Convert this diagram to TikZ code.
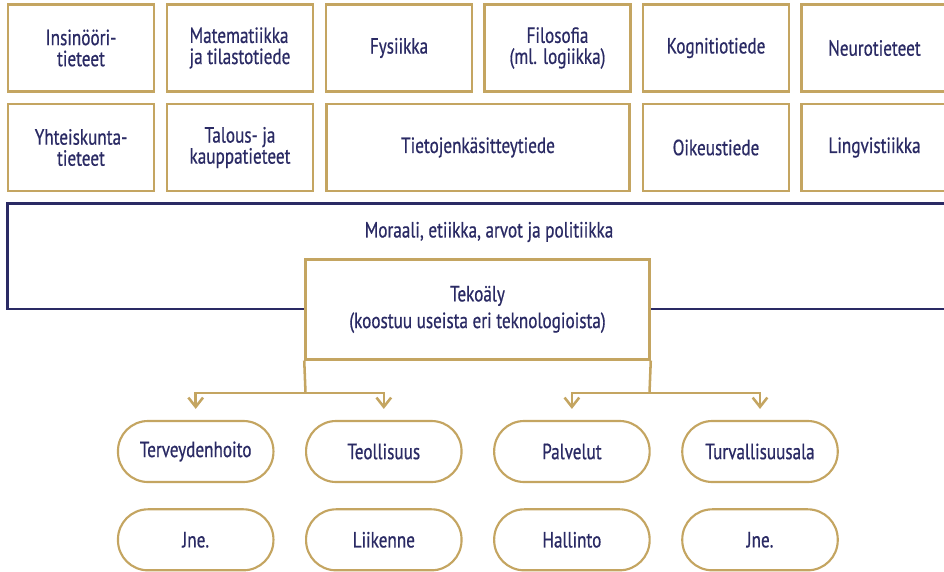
\documentclass[tikz,border=0pt]{standalone}
\usepackage{fontspec}
\setmainfont{PT Sans}[FakeStretch=0.78,FakeBold=0.6]
\usepackage{tikz}
\usetikzlibrary{arrows.meta}

\definecolor{kulta}{HTML}{C4A561}
\definecolor{laivasto}{HTML}{2A2A64}

\begin{document}
\begin{tikzpicture}[x=0.75pt,y=-0.75pt,
    font=\fontsize{16.5}{15.8}\selectfont, text=laivasto,
    ala/.style={draw=kulta,line width=1.9pt,fill=white,align=center,
      minimum width=109.5pt,minimum height=65.25pt,inner sep=0pt},
    sovellus/.style={draw=kulta,line width=1.6pt,fill=white,rounded corners=22.5pt,
      minimum width=116.6pt,minimum height=45.75pt,inner sep=0pt},
    haara/.style={draw=kulta,line width=1.9pt,-{Straight Barb[length=7pt,width=11pt]},
      shorten >=8.25pt}]
  \clip (0,0) rectangle (944,571);
  % tieteenalat
  \node[ala] (insin)  at (81,48)    {Insinööri-\\tieteet};
  \node[ala,align=left] (mate) at (240,48) {Matematiikka\\ja tilastotiede};
  \node[ala] (fys)    at (399,48)   {Fysiikka};
  \node[ala] (filo)   at (557.5,48) {Filosofia\\(ml. logiikka)};
  \node[ala] (kogn)   at (716,48)   {Kognitiotiede};
  \node[ala] (neuro)  at (874.5,48) {Neurotieteet};
  \node[ala] (yht)    at (81,147.5)  {Yhteiskunta-\\tieteet};
  \node[ala] (talous) at (240,147.5) {Talous- ja\\kauppatieteet};
  \node[ala,minimum width=227.6pt] (tieto) at (478,147.5) {Tietojenkäsitteytiede};
  \node[ala] (oik)    at (716,147.5) {Oikeustiede};
  \node[ala] (ling)   at (874.5,147.5) {Lingvistiikka};
  % kehys
  \draw[laivasto,line width=2.2pt] (960,203.5) -- (7.5,203.5) -- (7.5,309) -- (960,309);
  \node (moraali) at (489,232) {Moraali, etiikka, arvot ja politiikka};
  \node[ala,minimum width=258pt,minimum height=74.8pt,
    font=\fontsize{16.5}{20}\selectfont] (tek) at (477.5,309.4)
    {Tekoäly\\(koostuu useista eri teknologioista)};
  % sovellukset
  \node[sovellus] (terv) at (195.7,451.5) {Terveydenhoito};
  \node[sovellus] (teol) at (383.8,451.5) {Teollisuus};
  \node[sovellus] (palv) at (571.9,451.5) {Palvelut};
  \node[sovellus] (turv) at (760,451.5)   {Turvallisuusala};
  \node[sovellus] (jne1) at (195.7,539.8) {Jne.};
  \node[sovellus] (liik) at (383.8,539.8) {Liikenne};
  \node[sovellus] (hall) at (571.9,539.8) {Hallinto};
  \node[sovellus] (jne2) at (760,539.8)   {Jne.};
  \coordinate (vasen) at (305.5,392.8);
  \coordinate (oikea) at (649.5,392.8);
  \draw[kulta,line width=1.9pt] (tek.south west) -- (vasen);
  \draw[kulta,line width=1.9pt] (tek.south east) -- (oikea);
  \draw[haara] (vasen) -| (terv.north);
  \draw[haara] (vasen) -| (teol.north);
  \draw[haara] (oikea) -| (palv.north);
  \draw[haara] (oikea) -| (turv.north);
\end{tikzpicture}
\end{document}
